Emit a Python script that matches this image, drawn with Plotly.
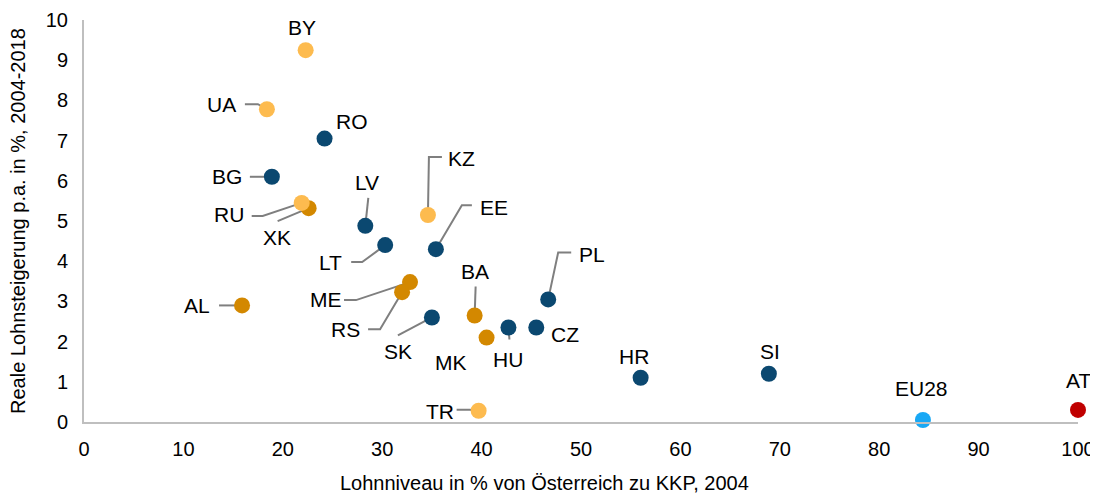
import plotly.graph_objects as go

# ---- data ----
countries = ["BY", "UA", "RO", "BG", "RU", "XK", "LV", "KZ", "LT", "EE", "ME", "RS",
             "AL", "SK", "BA", "MK", "HU", "CZ", "PL", "HR", "SI", "EU28", "AT", "TR"]
wage_level = [22.3, 18.4, 24.2, 18.9, 21.9, 22.6, 28.3, 34.6, 30.3, 35.4, 32.8, 32.0,
              15.9, 35.0, 39.3, 40.5, 42.7, 45.5, 46.7, 56.0, 68.9, 84.4, 100.0, 39.7]
wage_growth = [9.25, 7.78, 7.05, 6.1, 5.45, 5.32, 4.88, 5.15, 4.4, 4.3, 3.48, 3.23,
               2.9, 2.6, 2.65, 2.1, 2.35, 2.35, 3.05, 1.1, 1.2, 0.05, 0.3, 0.28]
group = ["other", "other", "eu", "eu", "other", "wb", "eu", "other", "eu", "eu", "wb", "wb",
         "wb", "eu", "wb", "wb", "eu", "eu", "eu", "eu", "eu", "eu28", "at", "other"]

x_ticks = [0, 10, 20, 30, 40, 50, 60, 70, 80, 90, 100]
y_ticks = [0, 1, 2, 3, 4, 5, 6, 7, 8, 9, 10]

x_title = "Lohnniveau in % von Österreich zu KKP, 2004"
y_title = "Reale Lohnsteigerung p.a. in %, 2004-2018"

# ---- styling ----
colors = {"eu": "#0B4870", "wb": "#D38800", "other": "#FDBB4F", "eu28": "#18A8F5", "at": "#C00000"}

# label offsets in pixels (dx right, dy up) relative to the point
label_off = {
    "BY": (-4, 23), "UA": (-45, 5), "RO": (27, 17), "BG": (-45, 0), "RU": (-73, -12),
    "XK": (-32, -29), "LV": (2, 43), "KZ": (34, 56), "LT": (-55, -17), "EE": (58, 42),
    "ME": (-84, -17), "RS": (-57, -37), "AL": (-45, 0), "SK": (-34, -34), "BA": (0, 44),
    "MK": (-36, -25), "HU": (0, -32), "CZ": (29, -7), "PL": (44, 45), "HR": (-7, 21),
    "SI": (1, 22), "EU28": (-1, 31), "AT": (0, 29), "TR": (-39, -1),
}
# leader line polylines in pixel offsets relative to the point
leaders = {
    "UA": [(-22, 5), (-9, 5), (0, 0)],
    "BG": [(-22, 0), (-6, 0)],
    "RU": [(-50, -13), (-39, -13), (0, 0)],
    "XK": [(-31, -13), (0, 0)],
    "LV": [(3, 28), (0, 0)],
    "KZ": [(14, 58), (1, 58), (0, 0)],
    "EE": [(36, 44), (26, 44), (0, 0)],
    "LT": [(-34, -17), (-23, -17), (0, 0)],
    "PL": [(23, 47), (10, 47), (0, 0)],
    "BA": [(1, 29), (0, 0)],
    "ME": [(-66, -18), (-54, -18), (0, 0)],
    "RS": [(-34, -37), (-22, -37), (0, 0)],
    "AL": [(-23, 0), (0, 0)],
    "SK": [(-34, -18), (0, 0)],
    "HU": [(1, -12), (0, 0)],
    "TR": [(-22, 1), (-9, 1), (0, 0)],
}

FONT = "Liberation Sans, Arial, sans-serif"
PAGE_OFF = 8                      # default body margin of the html page
W, H = 1098 - PAGE_OFF, 494 - PAGE_OFF
ML, MT = 84 - PAGE_OFF, 20 - PAGE_OFF
MR, MB = 20, 72

fig = go.Figure()

shapes = []
for c, xv, yv in zip(countries, wage_level, wage_growth):
    if c in leaders:
        pts = leaders[c]
        path = "M " + " L ".join(f"{dx},{dy}" for dx, dy in pts)
        shapes.append(dict(type="path", xref="x", yref="y", xsizemode="pixel", ysizemode="pixel",
                           xanchor=xv, yanchor=yv, path=path,
                           line=dict(color="#7F7F7F", width=2), layer="below"))

for g in ["eu", "wb", "other", "eu28", "at"]:
    idx = [i for i, gg in enumerate(group) if gg == g]
    fig.add_trace(go.Scatter(
        x=[wage_level[i] for i in idx], y=[wage_growth[i] for i in idx],
        mode="markers", marker=dict(size=16, color=colors[g], line=dict(width=0)),
        cliponaxis=False, showlegend=False, hoverinfo="text",
        text=[countries[i] for i in idx]))

annotations = []
for c, xv, yv in zip(countries, wage_level, wage_growth):
    dx, dy = label_off[c]
    annotations.append(dict(x=xv, y=yv, xref="x", yref="y", text=c, showarrow=False,
                            xshift=dx, yshift=dy, xanchor="center", yanchor="middle",
                            font=dict(family=FONT, size=21, color="#000000")))

pw, ph = W - ML - MR, H - MT - MB
plot_left_page, plot_bottom_page = PAGE_OFF + ML, PAGE_OFF + H - MB
# axis titles placed as paper annotations (positions given in page pixels)
annotations.append(dict(text=x_title, xref="paper", yref="paper",
                        x=(544 - plot_left_page) / pw, y=-(483 - plot_bottom_page) / ph,
                        xanchor="center", yanchor="middle", showarrow=False,
                        font=dict(family=FONT, size=20, color="#000000")))
annotations.append(dict(text=y_title, xref="paper", yref="paper",
                        x=(18 - plot_left_page) / pw, y=(plot_bottom_page - 221) / ph,
                        textangle=-90, xanchor="center", yanchor="middle", showarrow=False,
                        font=dict(family=FONT, size=20, color="#000000")))

fig.update_layout(
    width=W, height=H,
    margin=dict(l=ML, r=MR, t=MT, b=MB),
    paper_bgcolor="white", plot_bgcolor="white",
    shapes=shapes, annotations=annotations,
    font=dict(family=FONT, color="#000000"),
    xaxis=dict(range=[0, 100], tickvals=x_ticks, ticktext=[str(v) for v in x_ticks],
               showgrid=False, zeroline=False, showline=True, linecolor="#BFBFBF", linewidth=2,
               ticks="", ticklabelstandoff=8, tickfont=dict(size=20, family=FONT),
               automargin=False),
    yaxis=dict(range=[0, 10], tickvals=y_ticks, ticktext=[str(v) for v in y_ticks],
               showgrid=False, zeroline=False, showline=True, linecolor="#BFBFBF", linewidth=2,
               ticks="", ticklabelstandoff=10, tickfont=dict(size=20, family=FONT),
               automargin=False),
)

fig.write_html("out.html")
